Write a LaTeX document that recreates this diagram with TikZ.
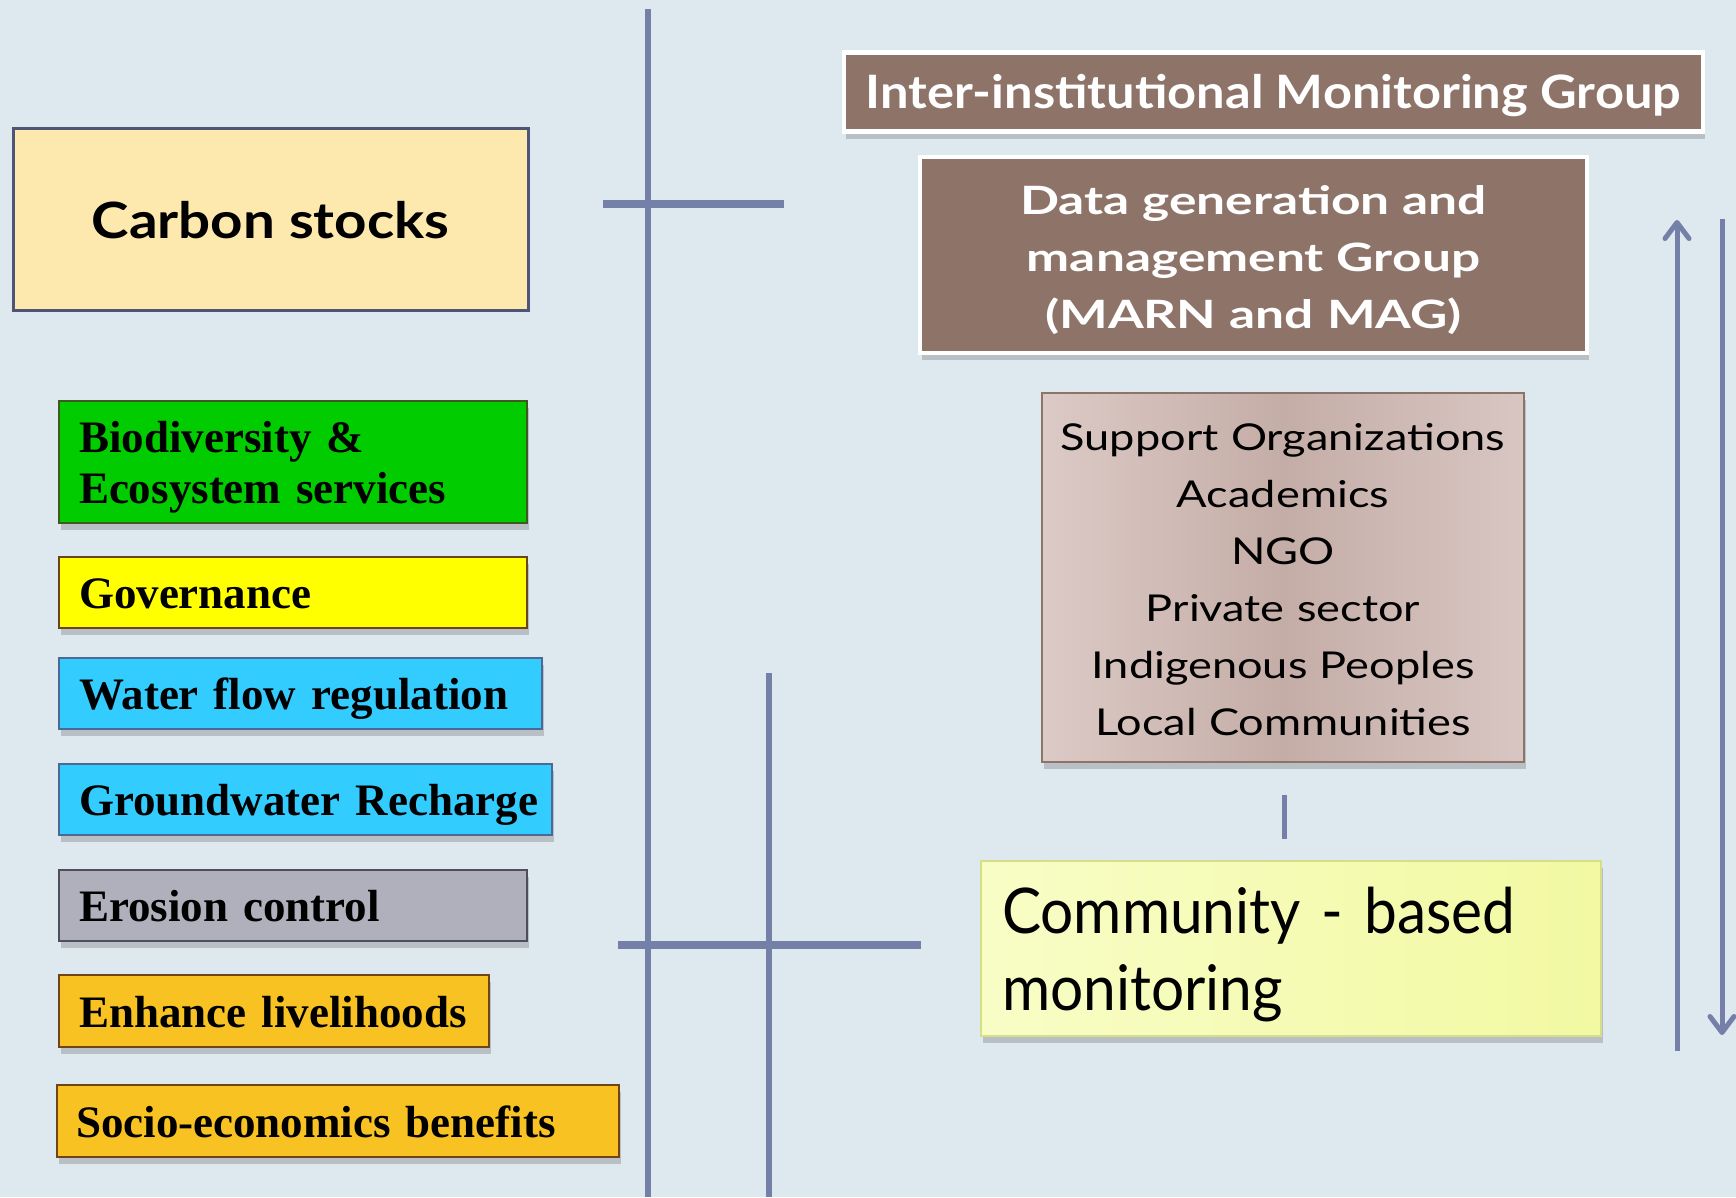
\documentclass[tikz,border=0pt]{standalone}
\usepackage{fontspec}
\setmainfont{Liberation Serif}
\newfontfamily\gCarbon[FakeStretch=1.13]{Lato}
\newfontfamily\gInter[FakeStretch=1.10]{Lato}
\newfontfamily\gData[FakeStretch=1.32]{Lato}
\newfontfamily\gSup[FakeStretch=1.22]{Lato}
\newfontfamily\gComm[FakeStretch=0.93]{Lato}
\usetikzlibrary{arrows.meta,shadows}
\definecolor{bg}{HTML}{DDE8EF}
\definecolor{lineC}{HTML}{7480A8}
\definecolor{carbonF}{HTML}{FDE9AE}
\definecolor{carbonD}{HTML}{4E5576}
\definecolor{brownF}{HTML}{8E7369}
\definecolor{supL}{HTML}{DCCAC6}
\definecolor{supM}{HTML}{C5ADA7}
\definecolor{supR}{HTML}{D8C6C2}
\definecolor{commL}{HTML}{F8FDC6}
\definecolor{commR}{HTML}{F2F9A2}
\definecolor{commD}{HTML}{D6DE8A}
\definecolor{bioF}{HTML}{00CC00}
\definecolor{bioD}{HTML}{3F5A1E}
\definecolor{govF}{HTML}{FFFF00}
\definecolor{govD}{HTML}{6A4416}
\definecolor{waterF}{HTML}{33CCFF}
\definecolor{waterD}{HTML}{4C6894}
\definecolor{eroF}{HTML}{B0B0BC}
\definecolor{eroD}{HTML}{4E4E5C}
\definecolor{oraF}{HTML}{F8C322}
\definecolor{oraD}{HTML}{704416}
\begin{document}
\begin{tikzpicture}[x=1pt,y=-1pt,
  shad/.style={drop shadow={shadow xshift=2pt,shadow yshift=-7pt,opacity=.3,fill=black!60}},
  vline/.style={draw=lineC,line width=6pt},
  hline/.style={draw=lineC,line width=8pt},
  arr/.style={draw=lineC,line width=5pt,-{Straight Barb[length=16pt,width=24pt,round]}},
  leftbox/.style={shad,line width=2.5pt,rectangle,inner xsep=20pt,inner ysep=0pt,align=left,
    font=\bfseries\fontsize{45}{51}\selectfont,text height=32pt,text depth=0pt},
  brownbox/.style={shad,draw=white,line width=4.5pt,fill=brownF,text=white,align=center,inner sep=0pt},
]
\fill[bg] (0,0) rectangle (1736,1197);
\useasboundingbox (0,0) rectangle (1736,1197);

% structure lines
\coordinate (v1t) at (648,9);   \coordinate (v1b) at (648,1197);
\coordinate (h1l) at (603,204); \coordinate (h1r) at (784,204);
\coordinate (v2t) at (769,673); \coordinate (v2b) at (769,1197);
\coordinate (h2l) at (618,945); \coordinate (h2r) at (921,945);
\path[vline] (v1t) -- (v1b);
\path[vline] (v2t) -- (v2b);
\path[hline] (h1l) -- (h1r);
\path[hline] (h2l) -- (h2r);

% carbon
\node[draw=carbonD,fill=carbonF,line width=3pt,minimum width=515pt,minimum height=182pt,inner sep=0pt,
  font=\gCarbon\bfseries\fontsize{50}{60}\selectfont,text height=38pt,text depth=0pt] (carbon) at (270.5,219) {Carbon stocks};

% left boxes
\node[leftbox,draw=bioD,fill=bioF,minimum width=468pt,minimum height=122pt,text width=428pt,text depth=51pt] (bio) at (293,462) {Biodiversity \&\\Ecosystem~services};
\node[leftbox,draw=govD,fill=govF,minimum width=468pt,minimum height=71pt,text width=428pt] (gov) at (293,592.5) {Governance};
\node[leftbox,draw=waterD,fill=waterF,minimum width=483pt,minimum height=71pt,text width=443pt] (water) at (300.5,693.5) {Water~flow~regulation};
\node[leftbox,draw=waterD,fill=waterF,minimum width=493pt,minimum height=71pt,text width=453pt] (ground) at (305.5,799.5) {Groundwater~Recharge};
\node[leftbox,draw=eroD,fill=eroF,minimum width=468pt,minimum height=71pt,text width=428pt] (ero) at (293,905.5) {Erosion~control};
\node[leftbox,draw=oraD,fill=oraF,minimum width=430pt,minimum height=72pt,text width=390pt] (enh) at (274,1011) {Enhance~livelihoods};
\node[leftbox,draw=oraD,fill=oraF,minimum width=562pt,minimum height=72pt,text width=524pt,inner xsep=19pt] (socio) at (338,1121) {Socio-economics~benefits};

% right column
\node[brownbox,minimum width=859pt,minimum height=79pt,
  font=\gInter\bfseries\fontsize{46}{55}\selectfont,text height=32pt,text depth=0pt] (inter) at (1273.5,92) {Inter-institutional Monitoring Group};
\node[brownbox,minimum width=667pt,minimum height=196pt,text width=660pt,
  font=\gData\bfseries\fontsize{39}{57}\selectfont,text height=32pt,text depth=114pt] (data) at (1253.5,255) {Data generation and\\management Group\\(MARN and MAG)};
\node[shad,draw=brownF,line width=2pt,left color=supL,right color=supR,middle color=supM,
  minimum width=482pt,minimum height=369pt,text width=474pt,inner sep=0pt,align=center,
  font=\gSup\fontsize{37}{57}\selectfont,text height=31pt,text depth=285pt] (sup) at (1283,577.5)
  {Support Organizations\\Academics\\NGO\\Private sector\\Indigenous Peoples\\Local Communities};
\coordinate (st) at (1284,795); \coordinate (sb) at (1284,839);
\path[draw=lineC,line width=5pt] (st) -- (sb);
\node[shad,draw=commD,line width=2pt,left color=commL,right color=commR,
  minimum width=620pt,minimum height=175pt,text width=578pt,inner xsep=21pt,inner ysep=0pt,align=left,
  font=\gComm\fontsize{63}{77}\selectfont,text height=46pt,text depth=77pt] (comm) at (1291,948.5)
  {Community - based\\monitoring};

% arrows
\coordinate (upb) at (1677,1051); \coordinate (upt) at (1677,220);
\coordinate (dnt) at (1722,219);  \coordinate (dnb) at (1722,1035);
\path[arr] (upb) -- (upt);
\path[arr] (dnt) -- (dnb);
\end{tikzpicture}
\end{document}
